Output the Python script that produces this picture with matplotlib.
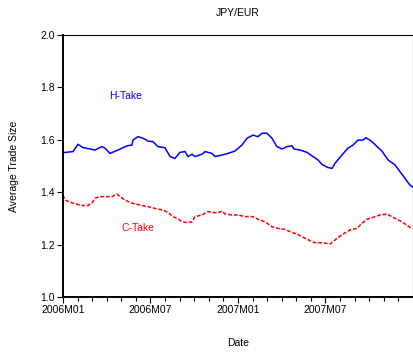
import numpy as np
import matplotlib
matplotlib.use("Agg")
import matplotlib.pyplot as plt
from matplotlib.ticker import MultipleLocator

plt.rcParams['font.family'] = ['Liberation Sans', 'DejaVu Sans']

# months since 2006M01
h_month = [0.00, 0.69, 1.03, 1.37, 1.85, 2.19, 2.67, 2.88, 3.22, 3.77, 4.39, 4.73, 4.80,
           5.14, 5.49, 5.83, 6.17, 6.51, 6.99, 7.34, 7.68, 8.02, 8.37, 8.57, 8.85, 9.05,
           9.53, 9.74, 10.22, 10.42, 10.90, 11.31, 11.79, 12.27, 12.62, 13.03, 13.37,
           13.65, 13.99, 14.33, 14.67, 15.02, 15.36, 15.70, 15.84, 16.25, 16.73, 17.14,
           17.49, 17.76, 18.17, 18.45, 18.65, 19.13, 19.54, 19.89, 20.23, 20.57, 20.78,
           21.19, 21.53, 21.87, 22.29, 22.77, 23.11, 23.45, 23.79, 24.00]
h_take = [1.551, 1.555, 1.583, 1.570, 1.565, 1.561, 1.574, 1.568, 1.548, 1.561, 1.577, 1.580, 1.599,
          1.612, 1.606, 1.595, 1.593, 1.574, 1.570, 1.536, 1.529, 1.552, 1.555, 1.536, 1.545, 1.536,
          1.545, 1.555, 1.548, 1.536, 1.542, 1.548, 1.557, 1.580, 1.606, 1.618, 1.612,
          1.625, 1.625, 1.606, 1.574, 1.565, 1.574, 1.577, 1.565, 1.561, 1.552, 1.536,
          1.523, 1.506, 1.494, 1.491, 1.510, 1.542, 1.568, 1.580, 1.599, 1.599, 1.608,
          1.593, 1.574, 1.557, 1.523, 1.504, 1.478, 1.453, 1.427, 1.419]

c_month = [0.00, 0.14, 0.69, 1.17, 1.65, 1.99, 2.19, 2.54, 3.02, 3.36, 3.70, 3.91, 4.25,
           4.73, 5.28, 5.83, 6.45, 6.86, 7.20, 7.54, 7.89, 8.16, 8.50, 8.85, 9.05, 9.53,
           9.94, 10.29, 10.63, 10.90, 11.11, 11.59, 12.00, 12.48, 12.96, 13.37, 13.85,
           14.33, 14.74, 15.22, 15.77, 16.05, 16.46, 16.94, 17.28, 17.83, 18.31, 18.79,
           19.20, 19.68, 20.16, 20.50, 20.85, 21.26, 21.74, 22.22, 22.63, 23.11, 23.45,
           23.79, 24.00]
c_take = [1.389, 1.370, 1.358, 1.351, 1.348, 1.358, 1.377, 1.383, 1.383, 1.383, 1.393, 1.383, 1.370,
          1.358, 1.351, 1.345, 1.336, 1.332, 1.323, 1.307, 1.298, 1.287, 1.284, 1.287, 1.307, 1.313,
          1.326, 1.322, 1.322, 1.328, 1.317, 1.313, 1.313, 1.307, 1.307, 1.297, 1.287,
          1.268, 1.262, 1.258, 1.245, 1.240, 1.228, 1.215, 1.207, 1.207, 1.202, 1.224,
          1.240, 1.256, 1.262, 1.281, 1.297, 1.304, 1.313, 1.317, 1.304, 1.291, 1.279,
          1.266, 1.262]

tick_pos = [0, 6, 12, 18]
tick_labels = ["2006M01", "2006M07", "2007M01", "2007M07"]

fig = plt.figure(figsize=(4.14, 3.60), dpi=100)
ax = fig.add_axes([63 / 414, 63 / 360, 350 / 414, 262 / 360])

ax.plot(h_month, h_take, color="#0000ff", lw=1.1)
ax.plot(c_month, c_take, color="#ff0000", lw=1.1, ls=(0, (2.5, 1.2)))

ax.text(4.32, 1.767, "H-Take", color="#0000ff", fontsize=7.5, ha="center", va="center")
ax.text(5.15, 1.262, "C-Take", color="#ff0000", fontsize=7.5, ha="center", va="center")

ax.set_xlim(0, 24)
ax.set_ylim(1.0, 2.0)
ax.set_xticks(tick_pos)
ax.set_xticklabels(tick_labels)
ax.xaxis.set_minor_locator(MultipleLocator(1))
ax.yaxis.set_major_locator(MultipleLocator(0.2))
ax.yaxis.set_major_formatter(matplotlib.ticker.FormatStrFormatter("%.1f"))

ax.tick_params(axis="both", which="major", direction="out", length=4, width=0.8,
               labelsize=7.5, pad=2)
ax.tick_params(axis="x", which="minor", direction="out", length=3, width=0.8)

for side in ["left", "bottom"]:
    ax.spines[side].set_linewidth(1.4)
for side in ["top", "right"]:
    ax.spines[side].set_linewidth(0.8)

ax.set_title("JPY/EUR", fontsize=7.5, pad=14)
ax.set_xlabel("Date", fontsize=7.5, labelpad=16)
ax.set_ylabel("Average Trade Size", fontsize=7.5, labelpad=15)

fig.savefig("out.png", dpi=100)
